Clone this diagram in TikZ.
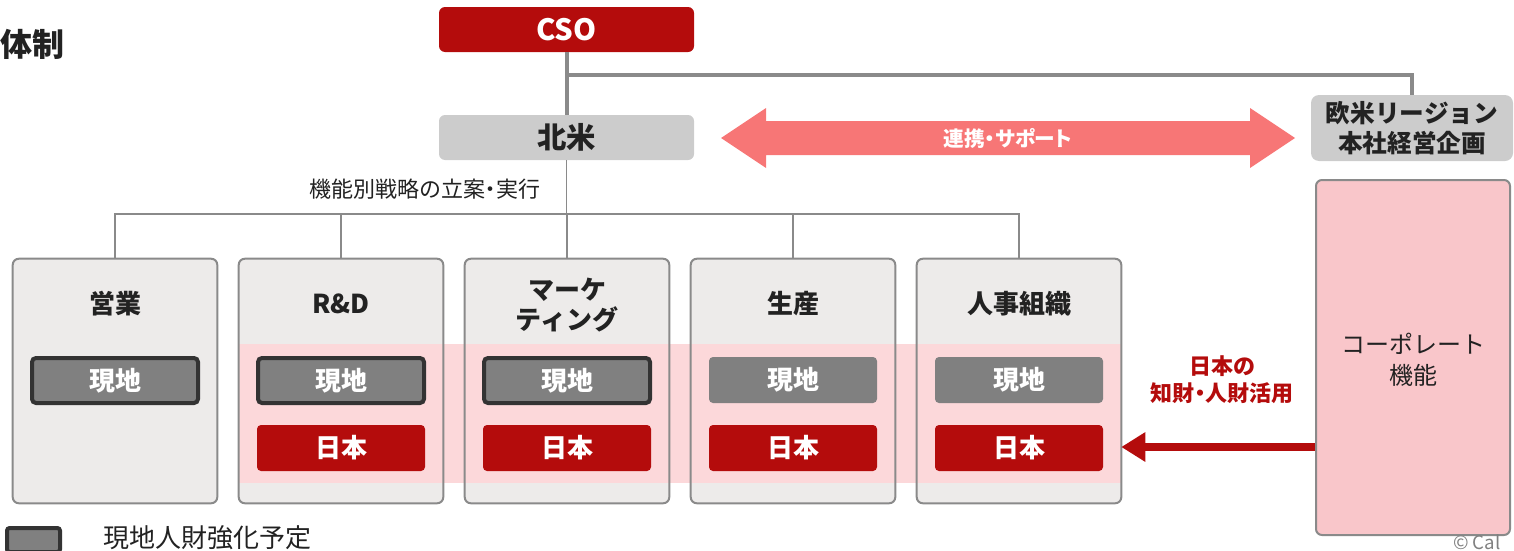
\documentclass[tikz,border=0pt]{standalone}
\usepackage{fontspec}
\setmainfont{Noto Sans CJK JP}
\usetikzlibrary{arrows.meta}
\newlength\px \setlength\px{0.75pt}
\definecolor{cred}{HTML}{B40C0C}
\definecolor{cgraybox}{HTML}{CCCCCC}
\definecolor{cfunc}{HTML}{EDEBEA}
\definecolor{cband}{HTML}{FCD8DA}
\definecolor{cpink}{HTML}{F9C6CA}
\definecolor{carrow}{HTML}{F77676}
\definecolor{cline}{HTML}{8A8A8A}
\definecolor{clocal}{HTML}{808080}
\definecolor{cdark}{HTML}{333333}
\definecolor{ctext}{HTML}{222222}
\newcommand\paltfeat{\addfontfeature{RawFeature=+palt}}
\tikzset{
  topbox/.style={rounded corners=4.5pt, minimum width=255\px, minimum height=45\px, inner sep=0pt},
  funcfill/.style={fill=cfunc, rounded corners=4.5pt, minimum width=204\px, minimum height=244\px, inner sep=0pt},
  funcborder/.style={draw=cline, line width=1.5pt, rounded corners=4.5pt},
  head/.style={font=\bfseries\fontsize{19.5}{23}\selectfont, text=ctext, align=center},
  localbox/.style={fill=clocal, text=white, font=\bfseries\fontsize{19.5}{23}\selectfont, rounded corners=3pt, minimum width=168\px, minimum height=46\px, inner sep=0pt},
  strong/.style={draw=cdark, line width=3pt, minimum width=166\px, minimum height=45\px},
  japanbox/.style={fill=cred, text=white, font=\bfseries\fontsize{19.5}{23}\selectfont, rounded corners=3pt, minimum width=168\px, minimum height=46\px, inner sep=0pt},
  thinline/.style={draw=cline, line width=1.2pt},
  thickline/.style={draw=cline, line width=3pt},
}
\begin{document}
\begin{tikzpicture}[x=0.75pt,y=-0.75pt]
\useasboundingbox (0,0) rectangle (1514,550);

% title
\node[anchor=west, inner sep=0pt, font=\bfseries\fontsize{24}{28}\selectfont, text=ctext] (title) at (0,44) {体制};

% top boxes
\node[topbox, fill=cred, text=white, font=\bfseries\fontsize{22}{26}\selectfont] (cso) at (566.5,29.5) {CSO};
\node[topbox, fill=cgraybox, text=ctext, font=\bfseries\fontsize{22}{26}\selectfont] (na) at (566.5,137.5) {北米};
\node[fill=cgraybox, text=ctext, rounded corners=6pt, minimum width=202\px, minimum height=66\px, inner sep=0pt, align=center, font=\bfseries\fontsize{18.5}{23}\selectfont] (eu) at (1412,128) {欧米リージョン\\本社経営企画};

% CSO connectors
\coordinate (br) at (566.5,75);
\draw[thickline] (cso.south) -- (na.north);
\draw[thickline] (br) -| (eu.north);

% double arrow
\path[fill=carrow] (721,138) -- (766,108) -- (766,121) -- (1250,121) -- (1250,108) -- (1295,138)
  -- (1250,168) -- (1250,155) -- (766,155) -- (766,168) -- cycle;
\node[text=white, font=\bfseries\fontsize{15.5}{18}\selectfont\paltfeat] (link) at (1008,138) {連携・サポート};

% strategy label
\node[text=ctext, font=\fontsize{16.5}{18}\selectfont\paltfeat] (strat) at (425,189) {機能別戦略の立案・実行};

% function boxes (fills)
\foreach \i/\x in {1/115,2/341,3/567,4/793,5/1019}{
  \node[funcfill] (f\i) at (\x,381) {};
}
% pink band
\fill[cband] (239,344) rectangle (1121,483);
% borders
\foreach \i in {1,...,5}{
  \draw[funcborder] (f\i.north west) rectangle (f\i.south east);
}

% bus
\coordinate (bus) at (566.5,214);
\draw[thinline] (na.south) -- (bus);
\draw[thinline] (f1.north) -- (f1.north |- bus) -- (f5.north |- bus) -- (f5.north);
\foreach \i in {2,3,4}{
  \draw[thinline] (f\i.north |- bus) -- (f\i.north);
}

% headers
\node[head] (h1) at (115,304) {営業};
\node[head] (h2) at (341,304) {R\&D};
\node[head] (h3) at (567,305) {マーケ\\ティング};
\node[head] (h4) at (793,304) {生産};
\node[head] (h5) at (1019,304) {人事組織};

% local boxes
\node[localbox, strong] (l1) at (115,380.5) {現地};
\node[localbox, strong] (l2) at (341,380.5) {現地};
\node[localbox, strong] (l3) at (567,380.5) {現地};
\node[localbox] (l4) at (793,380) {現地};
\node[localbox] (l5) at (1019,380) {現地};

% japan boxes
\foreach \i/\x in {2/341,3/567,4/793,5/1019}{
  \node[japanbox] (j\i) at (\x,448) {日本};
}

% corporate box
\node[fill=cpink, draw=cline, line width=1.5pt, rounded corners=4.5pt, minimum width=194\px, minimum height=355\px, inner sep=0pt] (corp) at (1413,357.5) {};
\node[text=ctext, align=center, font=\fontsize{18}{23}\selectfont] (corptxt) at (1413,360) {コーポレート\\機能};

% red arrow
\coordinate (ja) at (1300,447);
\draw[cred, line width=6pt, -{Triangle[length=18pt,width=21pt]}] (corp.west |- ja) -- (f5.east |- ja);
\node[text=cred, align=center, font=\bfseries\fontsize{16.5}{20}\selectfont\paltfeat] (use) at (1222,380) {日本の\\知財・人財活用};

% legend
\node[fill=clocal, draw=cdark, line width=3pt, rounded corners=2pt, minimum width=53\px, minimum height=24\px, inner sep=0pt] (leg) at (33.5,540) {};
\node[anchor=west, inner sep=0pt, text=ctext, font=\fontsize{19.5}{23}\selectfont] (legtxt) at (103,538) {現地人財強化予定};

% copyright
\node[anchor=base west, inner sep=0pt, text=gray, font=\fontsize{14}{17}\selectfont] (copy) at (1453,549) {© Cal};
\end{tikzpicture}
\end{document}
